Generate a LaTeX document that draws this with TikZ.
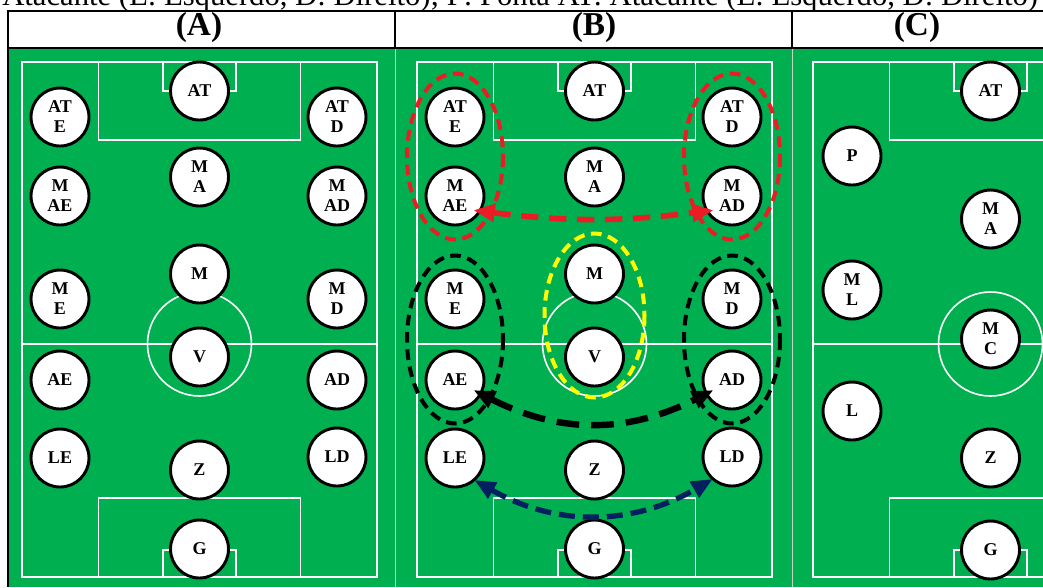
\documentclass[tikz,border=0pt]{standalone}
\usepackage{fontspec}
\setmainfont{Liberation Serif}
\usetikzlibrary{arrows.meta,calc}
\definecolor{pitch}{RGB}{0,176,80}
\definecolor{ringred}{RGB}{235,28,36}
\definecolor{ringyellow}{RGB}{255,255,0}
\definecolor{navy}{RGB}{0,32,96}
\definecolor{seam}{RGB}{190,215,195}

\begin{document}
\begin{tikzpicture}[x=0.75pt,y=-0.75pt,
  player/.style={circle,draw=black,fill=white,line width=2.2pt,minimum size=43.5pt,inner sep=0pt,align=center,font=\fontsize{13.5}{15}\selectfont\bfseries},
  pitchline/.style={draw=white,line width=1.2pt},
  ring/.style={dash pattern=on 8pt off 5pt,line width=3pt},
  pass/.style={dash pattern=on 13pt off 8pt,line width=4.2pt,{Triangle[length=16pt,width=13pt]}-{Triangle[length=16pt,width=13pt]}},
  header/.style={inner sep=0pt,font=\fontsize{25}{30}\selectfont\bfseries}]
  \useasboundingbox (0,0) rectangle (1043,587);
  \fill[white] (0,0) rectangle (1043,587);
  \fill[pitch] (8,48) rectangle (1043,587);
  \draw[seam,line width=0.6pt] (395,48) -- (395,587);
  \draw[seam,line width=0.6pt] (792,48) -- (792,587);
  \draw[line width=1.5pt] (1043,11) -- (8,11) -- (8,587);
  \draw[line width=1.5pt] (8,48) -- (1043,48);
  \draw[line width=1.5pt] (395,11) -- (395,48);
  \draw[line width=1.5pt] (792,11) -- (792,48);
  \node[anchor=base west,inner sep=0pt,font=\fontsize{23}{28}\selectfont] (caption) at (2,5) {Atacante (E: Esquerdo, D: Direito); P: Ponta AT: Atacante (E: Esquerdo, D: Direito)};
  \node[header] (hA) at (199,27.5) {(A)};
  \node[header] (hB) at (594,27.5) {(B)};
  \node[header] (hC) at (917,27.5) {(C)};

  \foreach \cx in {199.5,594.5,990.5} {
    \draw[pitchline] (\cx-177.5,62) rectangle (\cx+177.5,577);
    \draw[pitchline] (\cx-101,62) rectangle (\cx+101,140);
    \draw[pitchline] (\cx-36.5,62) rectangle (\cx+36.5,91);
    \draw[pitchline] (\cx-101,498) rectangle (\cx+101,577);
    \draw[pitchline] (\cx-36.5,550) rectangle (\cx+36.5,577);
    \draw[pitchline] (\cx-177.5,344) -- (\cx+177.5,344);
    \draw[pitchline] (\cx,344) circle [radius=52];
  }

  \foreach \p/\cx in {a/199.5,b/594.5} {
    \foreach \n/\dx/\y/\t in {AT/0/91/AT, ATE/-139.5/117/{AT\\E}, ATD/137.5/117/{AT\\D},
        MA/0/177/{M\\A}, MAE/-139.5/196/{M\\AE}, MAD/137.5/196/{M\\AD},
        M/0/274/M, ME/-139.5/299/{M\\E}, MD/137.5/299/{M\\D},
        V/0/357/V, AE/-139.5/380/AE, AD/137.5/380/AD,
        LE/-139.5/458/LE, LD/137.5/457/LD, Z/0/470/Z, G/0/549/G}
      \node[player] (\p\n) at (\cx+\dx,\y) {\t};
  }

  \node[player] (cAT) at (990.5,91) {AT};
  \node[player] (cP) at (852,156) {P};
  \node[player] (cMA) at (990.5,219) {M\\A};
  \node[player] (cML) at (852,290) {M\\L};
  \node[player] (cMC) at (990.5,339) {M\\C};
  \node[player] (cL) at (852,411) {L};
  \node[player] (cZ) at (990.5,458) {Z};
  \node[player] (cG) at (990.5,550) {G};

  \draw[ring,ringred] ($(bATE)!0.5!(bMAE)$) ellipse [x radius=48,y radius=83];
  \draw[ring,ringred] ($(bATD)!0.5!(bMAD)$) ellipse [x radius=48,y radius=83];
  \draw[ring,ringyellow] ($(bM)!0.5!(bV)$) ellipse [x radius=50,y radius=82];
  \draw[ring,black] ($(bME)!0.5!(bAE)$) ellipse [x radius=48,y radius=84];
  \draw[ring,black] ($(bMD)!0.5!(bAD)$) ellipse [x radius=48,y radius=84];

  \draw[pass,ringred,shorten <=-6pt,shorten >=-6pt] (bMAE.-30) to[bend right=7] (bMAD.-150);
  \draw[pass,black,dash pattern=on 17pt off 9pt,line width=4.8pt,shorten <=-7pt,shorten >=-7pt] (bAE.-28) to[bend right=27] (bAD.-152);
  \draw[pass,navy,dash pattern=on 12pt off 6pt,line width=4pt,shorten <=-1pt,shorten >=-1pt] (bLE.-48) to[bend right=30] (bLD.-132);
\end{tikzpicture}
\end{document}
